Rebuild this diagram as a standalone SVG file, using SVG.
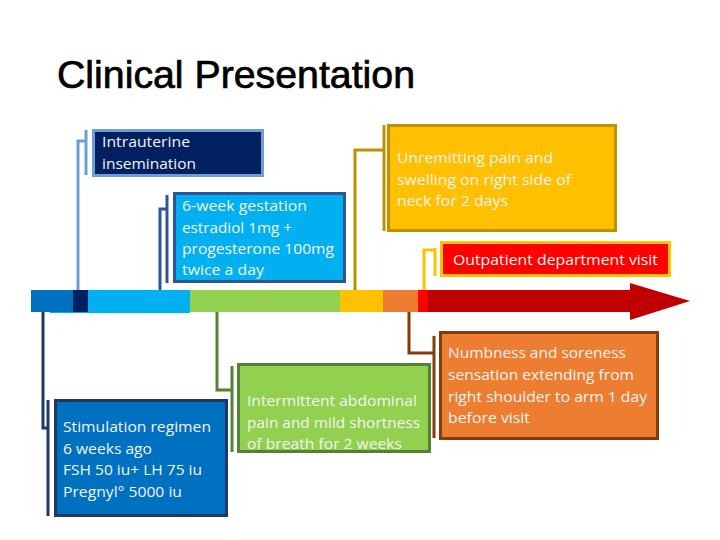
<svg xmlns="http://www.w3.org/2000/svg" width="720" height="540" viewBox="0 0 720 540">
<style>
.t{font-family:"Open Sans","Liberation Sans",sans-serif;font-size:14px;fill:#F4F4F4}
.title{font-family:"Liberation Sans","Open Sans",sans-serif;font-size:39px;fill:#000;stroke:#000;stroke-width:0.7}
.c{fill:none;stroke-width:3}
.b{stroke-width:3}
</style>
<rect width="720" height="540" fill="#fff"/>
<text class="title" x="57" y="88" textLength="358" lengthAdjust="spacingAndGlyphs">Clinical Presentation</text>

<g id="timeline">
<rect x="50" y="290" width="38" height="23" fill="#00B0F0"/>
<rect x="31" y="290" width="42" height="22" fill="#0070C0"/>
<rect x="73" y="290" width="15" height="22" fill="#002060"/>
<rect x="88" y="290" width="102" height="23" fill="#00B0F0"/>
<rect x="190" y="290" width="150" height="22" fill="#92D050"/>
<rect x="340" y="290" width="43" height="22" fill="#FFC000"/>
<rect x="383" y="290" width="35" height="22" fill="#ED7D31"/>
<rect x="418" y="290" width="10" height="22" fill="#FF0000"/>
<polygon points="428,290 630,290 630,283 690,301 630,320 630,312 428,312" fill="#C00000"/>
</g>

<g id="connectors">
<polyline class="c" stroke="#6A9FD8" points="78,290 78,141 87,141"/>
<line class="c" stroke="#6A9FD8" x1="86" y1="130" x2="86" y2="175"/>
<polyline class="c" stroke="#2F5597" points="160,290 160,209 168,209"/>
<line class="c" stroke="#2F5597" x1="167" y1="195" x2="167" y2="283"/>
<polyline class="c" stroke="#BF9000" points="355,290 355,150 385,150"/>
<line class="c" stroke="#BF9000" x1="384" y1="125" x2="384" y2="231"/>
<polyline class="c" stroke="#FFC000" points="424,290 424,250 436,250"/>
<line class="c" stroke="#FFC000" x1="435" y1="248" x2="435" y2="276"/>
<polyline class="c" stroke="#1F3864" points="43,312 43,428 49,428"/>
<line class="c" stroke="#1F3864" x1="48" y1="400" x2="48" y2="516"/>
<polyline class="c" stroke="#548235" points="217,312 217,390 233,390"/>
<line class="c" stroke="#548235" x1="232" y1="366" x2="232" y2="452"/>
<polyline class="c" stroke="#843C0C" points="409,312 409,353 435,353"/>
<line class="c" stroke="#843C0C" x1="434" y1="336" x2="434" y2="438"/>
</g>

<g id="iui">
<rect class="b" x="93.5" y="130.5" width="169" height="45" fill="#002060" stroke="#6A9FD8"/>
<text class="t" x="102" y="147" textLength="88" lengthAdjust="spacingAndGlyphs">Intrauterine</text>
<text class="t" x="102" y="169" textLength="94" lengthAdjust="spacingAndGlyphs">insemination</text>
</g>

<g id="gestation">
<rect class="b" x="174.5" y="193.5" width="170" height="88" fill="#00B0F0" stroke="#2F5597"/>
<text class="t" x="182" y="211" textLength="125" lengthAdjust="spacingAndGlyphs">6-week gestation</text>
<text class="t" x="182" y="233" textLength="110" lengthAdjust="spacingAndGlyphs">estradiol 1mg +</text>
<text class="t" x="182" y="254" textLength="152" lengthAdjust="spacingAndGlyphs">progesterone 100mg</text>
<text class="t" x="182" y="275" textLength="82" lengthAdjust="spacingAndGlyphs">twice a day</text>
</g>

<g id="neck">
<rect class="b" x="388.5" y="125.5" width="227" height="105" fill="#FFC000" stroke="#BF9000"/>
<text class="t" x="397" y="163" textLength="156" lengthAdjust="spacingAndGlyphs">Unremitting pain and</text>
<text class="t" x="397" y="185" textLength="174" lengthAdjust="spacingAndGlyphs">swelling on right side of</text>
<text class="t" x="397" y="206" textLength="111" lengthAdjust="spacingAndGlyphs">neck for 2 days</text>
</g>

<g id="outpatient">
<rect class="b" x="441.5" y="242.5" width="228" height="33" fill="#FF0000" stroke="#FFC000"/>
<text class="t" x="453" y="265" textLength="205" lengthAdjust="spacingAndGlyphs">Outpatient department visit</text>
</g>

<g id="stimulation">
<rect class="b" x="55.5" y="400.5" width="171" height="115" fill="#0070C0" stroke="#1F3864"/>
<text class="t" x="63" y="432" textLength="148" lengthAdjust="spacingAndGlyphs">Stimulation regimen</text>
<text class="t" x="63" y="454" textLength="89" lengthAdjust="spacingAndGlyphs">6 weeks ago</text>
<text class="t" x="63" y="475" textLength="139" lengthAdjust="spacingAndGlyphs">FSH 50 iu+ LH 75 iu</text>
<text class="t" x="63" y="497" textLength="119" lengthAdjust="spacingAndGlyphs">Pregnyl° 5000 iu</text>
</g>

<g id="abdominal">
<rect class="b" x="238.5" y="364.5" width="191" height="87" fill="#92D050" stroke="#548235"/>
<text class="t" x="247" y="406" textLength="170" lengthAdjust="spacingAndGlyphs">Intermittent abdominal</text>
<text class="t" x="247" y="428" textLength="173" lengthAdjust="spacingAndGlyphs">pain and mild shortness</text>
<text class="t" x="247" y="449" textLength="155" lengthAdjust="spacingAndGlyphs">of breath for 2 weeks</text>
</g>

<g id="numbness">
<rect class="b" x="440.5" y="332.5" width="217" height="106" fill="#ED7D31" stroke="#843C0C"/>
<text class="t" x="448" y="358" textLength="178" lengthAdjust="spacingAndGlyphs">Numbness and soreness</text>
<text class="t" x="448" y="380" textLength="186" lengthAdjust="spacingAndGlyphs">sensation extending from</text>
<text class="t" x="448" y="402" textLength="199" lengthAdjust="spacingAndGlyphs">right shoulder to arm 1 day</text>
<text class="t" x="448" y="423" textLength="82" lengthAdjust="spacingAndGlyphs">before visit</text>
</g>
</svg>
